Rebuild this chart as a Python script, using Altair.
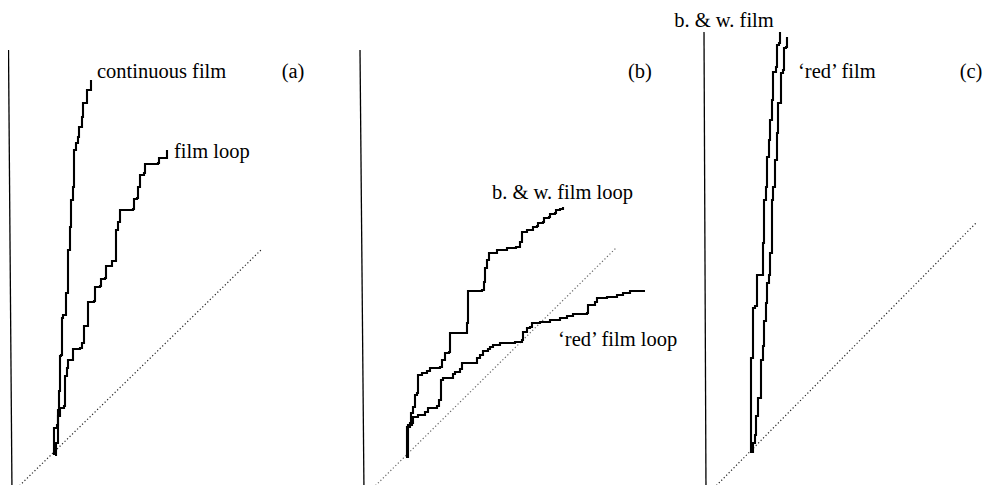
import altair as alt
import pandas as pd

# ---------------- values (time t, cumulative count n) ----------------
# Panel (a)
A_CONT_T = [44, 44, 47, 48, 49, 50, 51, 52, 53, 56, 58, 58, 60, 60, 61, 63, 64, 66, 68, 69, 72, 73, 77, 77, 81, 81]
A_CONT_N = [38, 65, 68, 83, 102, 137, 138, 175, 178, 200, 202, 243, 250, 266, 293, 306, 343, 350, 356, 366, 376, 390, 393, 403, 403, 413]
A_LOOP_T = [45, 46, 48, 50, 54, 55, 57, 58, 63, 63, 70, 72, 74, 78, 78, 84, 85, 90, 91, 95,
            96, 101, 102, 106, 106, 106, 108, 110, 123, 124, 127, 128, 130, 134, 135, 148, 149, 157, 157]
A_LOOP_N = [38, 50, 77, 85, 87, 117, 125, 133, 134, 144, 145, 150, 167, 168, 191, 192, 206, 207, 214, 215,
            227, 227, 232, 233, 250, 263, 271, 283, 284, 294, 295, 306, 318, 320, 329, 330, 335, 336, 343]
A_DIAG_T = [2, 252]
A_DIAG_N = [0, 244]
A_AXIS_T = [-1.5, 2]
A_AXIS_N = [443, 0]

# Panel (b)
B_BW_T = [43, 44, 47, 48, 50, 52, 54, 55, 59, 64, 67, 77, 79, 82, 86, 87, 103, 104, 105, 119, 121,
          122, 124, 126, 134, 144, 153, 157, 159, 164, 170, 170, 174, 175, 180, 181, 186, 187, 192, 193, 197, 200]
B_BW_N = [36, 66, 70, 80, 86, 98, 100, 118, 120, 122, 125, 126, 133, 140, 141, 160, 160, 170, 202, 203, 211,
          225, 233, 240, 243, 245, 246, 251, 261, 263, 264, 266, 267, 270, 271, 275, 276, 279, 280, 283, 284, 286]
B_RED_T = [44, 45, 49, 50, 55, 62, 65, 74, 76, 78, 80, 90, 92, 97, 99, 109, 114, 117, 120, 125, 127, 130,
           137, 152, 159, 160, 164, 167, 169, 177, 187, 197, 204, 210, 224, 225, 232, 234, 244, 254, 260, 267, 282]
B_RED_N = [36, 68, 70, 76, 78, 81, 85, 87, 93, 113, 115, 119, 121, 124, 130, 130, 135, 138, 142, 144, 146, 148,
           150, 151, 153, 161, 165, 166, 170, 171, 173, 175, 177, 179, 180, 188, 191, 195, 196, 198, 200, 202, 202]
B_DIAG_T = [5, 254]
B_DIAG_N = [0, 246]
B_AXIS_T = [-3, 1]
B_AXIS_N = [443, 0]

# Panel (c)
C_BW_T = [44, 45, 45, 45, 47, 47, 49, 51, 56, 57, 58, 60, 61, 63, 64, 66, 67, 70, 71, 73, 74]
C_BW_N = [41, 56, 83, 135, 140, 185, 187, 218, 218, 250, 293, 306, 336, 353, 373, 393, 421, 426, 448, 450, 461]
C_RED_T = [46, 47, 49, 50, 52, 52, 55, 55, 57, 58, 60, 61, 63, 64, 66, 66, 67, 69, 71, 72, 75, 77, 78, 80, 81]
C_RED_N = [41, 50, 58, 77, 80, 95, 103, 133, 147, 172, 190, 210, 218, 240, 250, 293, 306, 333, 360, 390,
           420, 423, 445, 446, 456]
C_DIAG_T = [3, 270]
C_DIAG_N = [0, 270]
C_AXIS_T = [-2, 0]
C_AXIS_N = [461, 0]

# Labels: (text, t, n, align)
A_LABELS = [("continuous film", 87, 421, "left"), ("film loop", 164, 341, "left"), ("(a)", 283, 421, "center")]
B_LABELS = [("b. & w. film loop", 129, 300, "left"), ("\u2018red\u2019 film loop", 195, 153, "left"),
            ("(b)", 277, 421, "center")]
C_LABELS = [("b. & w. film", 18, 472, "center"), ("\u2018red\u2019 film", 92, 421, "left"),
            ("(c)", 265, 421, "center")]

FONT = "Liberation Serif"
N_DOMAIN = [8, 485]
HEIGHT = 477


def curves_df(series):
    rows = []
    for name, ts, ns in series:
        for i, (t, n) in enumerate(zip(ts, ns)):
            rows.append({"series": name, "i": i, "t": t, "n": n})
    return pd.DataFrame(rows)


def panel(series, diag, axis, labels, tdom, width, diag_color):
    xs = alt.Scale(domain=tdom, nice=False, zero=False)
    ys = alt.Scale(domain=N_DOMAIN, nice=False, zero=False)
    X = alt.X("t:Q", scale=xs, axis=None)
    Y = alt.Y("n:Q", scale=ys, axis=None)

    axis_layer = alt.Chart(pd.DataFrame({"t": axis[0], "n": axis[1], "i": [0, 1]})).mark_line(
        color="black", strokeWidth=1.3, clip=True
    ).encode(x=X, y=Y, order="i:Q")

    diag_layer = alt.Chart(pd.DataFrame({"t": diag[0], "n": diag[1], "i": [0, 1]})).mark_line(
        color=diag_color, strokeWidth=1.2, strokeDash=[1.2, 2.3], clip=True
    ).encode(x=X, y=Y, order="i:Q")

    curve_layer = alt.Chart(curves_df(series)).mark_line(
        color="black", strokeWidth=2.1, clip=True, interpolate="step-after"
    ).encode(x=X, y=Y, detail="series:N", order="i:Q")

    lab = pd.DataFrame([{"label": l, "t": t, "n": n, "align": a} for l, t, n, a in labels])
    text_layers = []
    for a in ["left", "center"]:
        sub = lab[lab["align"] == a]
        if len(sub):
            text_layers.append(
                alt.Chart(sub).mark_text(
                    font=FONT, fontSize=20.5, align=a, baseline="middle", color="black"
                ).encode(x=X, y=Y, text="label:N")
            )

    return alt.layer(axis_layer, diag_layer, curve_layer, *text_layers).properties(
        width=width, height=HEIGHT
    )


pa = panel([("continuous film", A_CONT_T, A_CONT_N), ("film loop", A_LOOP_T, A_LOOP_N)],
           (A_DIAG_T, A_DIAG_N), (A_AXIS_T, A_AXIS_N), A_LABELS, [-2, 348], 350, "#222222")
pb = panel([("b. & w. film loop", B_BW_T, B_BW_N), ("red film loop", B_RED_T, B_RED_N)],
           (B_DIAG_T, B_DIAG_N), (B_AXIS_T, B_AXIS_N), B_LABELS, [-5, 340], 345, "#666666")
pc = panel([("b. & w. film", C_BW_T, C_BW_N), ("red film", C_RED_T, C_RED_N)],
           (C_DIAG_T, C_DIAG_N), (C_AXIS_T, C_AXIS_N), C_LABELS, [-3, 277], 280, "#222222")

chart = alt.hconcat(pa, pb, pc, spacing=0, bounds="flush").properties(
    padding=0, background="white"
).configure_view(stroke=None)

chart.save("out.html", embed_options={"renderer": "svg", "actions": False})
